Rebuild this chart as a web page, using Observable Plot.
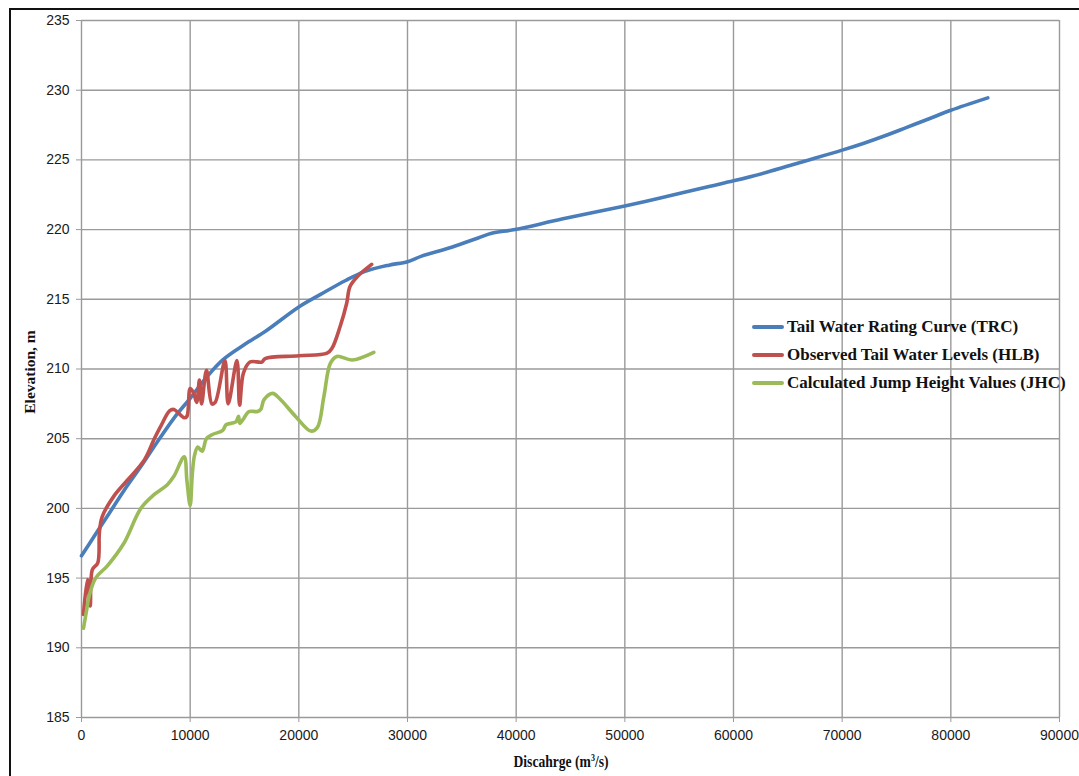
<!DOCTYPE html>
<html>
<head>
<meta charset="utf-8">
<script src="https://cdn.jsdelivr.net/npm/d3@7"></script>
<script src="https://cdn.jsdelivr.net/npm/@observablehq/plot@0.6"></script>
<style>
  body { margin:0; background:#fff; }
  #wrap { position:relative; width:1079px; height:776px; overflow:hidden; background:#fff; }
  #frame { position:absolute; left:9px; top:8px; width:1100px; height:800px; border-left:2px solid #111; border-top:2px solid #111; pointer-events:none; }
  #chart { position:absolute; left:0; top:0; }
  .lbl { position:absolute; font-family:"Liberation Serif","Times New Roman",serif; font-weight:bold; color:#111; white-space:nowrap; }
  #legend { position:absolute; left:752px; top:313px; font-family:"Liberation Serif","Times New Roman",serif; font-weight:bold; font-size:17px; color:#111; }
  #legend .row { display:flex; align-items:center; height:28px; }
  #legend .sw { width:32px; height:3.5px; margin-right:3px; border-radius:2px; }
</style>
</head>
<body>
<div id="wrap">
  <div id="chart"></div>
  <div id="frame"></div>
  <div class="lbl" id="ylab" style="left:30px; top:372px; font-size:15.5px; transform:translate(-50%,-50%) rotate(-90deg);">Elevation, m</div>
  <div class="lbl" id="xlab" style="left:561px; top:762px; font-size:17px; transform:translate(-50%,-50%) scaleX(0.8);">Discahrge (m<sup style="font-size:10px">3</sup>/s)</div>
  <div id="legend"></div>
</div>
<script>
// ---- data ----
const xTicks = [0, 10000, 20000, 30000, 40000, 50000, 60000, 70000, 80000, 90000];
const yTicks = [185, 190, 195, 200, 205, 210, 215, 220, 225, 230, 235];

const seriesNames = ["Tail Water Rating Curve (TRC)", "Observed Tail Water Levels (HLB)", "Calculated Jump Height Values (JHC)"];
const seriesColors = ["#4a7ebb", "#c0504d", "#9bbb59"];

const trcQ = [0,1170,2390,3930,5460,7000,8530,10000,11500,13000,15000,17000,20000,22000,24300,26100,28300,30000,31300,34060,36500,37750,39900,44200,50000,53450,57750,60000,63000,66050,70000,72000,74000,76000,78000,80000,83400];
const trcH = [196.6,198.0,199.45,201.3,203.0,204.8,206.5,207.9,209.4,210.65,211.75,212.75,214.45,215.35,216.35,217.0,217.45,217.7,218.1,218.74,219.4,219.74,220.0,220.76,221.7,222.3,223.1,223.5,224.1,224.8,225.7,226.2,226.75,227.35,227.95,228.56,229.45];

const hlbQ = [180,550,800,1000,1500,1650,1900,3000,4200,5800,6700,7300,8100,8500,9450,9700,10000,10300,10600,10850,11050,11500,12000,12300,13200,13500,14300,14550,14900,15500,16600,16900,20000,22600,23060,23800,24400,24700,25350,26700];
const hlbH = [192.4,194.9,193.0,195.6,196.1,198.3,199.4,200.9,202.0,203.5,205.0,205.9,207.0,207.1,206.5,206.6,208.6,208.3,207.6,209.2,207.5,209.9,207.5,207.6,210.6,207.5,210.6,207.4,209.7,210.5,210.5,210.75,210.95,211.14,211.5,213.05,214.7,215.9,216.6,217.5];

const jhcQ = [180,450,700,1300,2400,3900,5460,6700,7900,8500,9450,9700,10000,10200,10400,10700,11100,11500,12050,13000,13300,14200,14450,14570,14970,15400,16200,16500,16800,17600,18200,19700,21100,21700,22300,22900,23500,24900,26900];
const jhcH = [191.4,192.6,193.7,195.0,195.9,197.5,200.0,201.0,201.7,202.3,203.7,202.0,200.2,202.5,203.8,204.4,204.1,205.0,205.3,205.6,206.0,206.2,206.6,206.1,206.5,206.95,206.95,207.1,207.8,208.25,207.9,206.6,205.55,205.8,208.0,210.4,210.9,210.65,211.2];

const toRows = (qs, hs, s) => qs.map((q, i) => ({q, h: hs[i], s}));
const data = [
  ...toRows(trcQ, trcH, seriesNames[0]),
  ...toRows(hlbQ, hlbH, seriesNames[1]),
  ...toRows(jhcQ, jhcH, seriesNames[2])
];

const gridStyle = {stroke: "#9a9a9a", strokeOpacity: 1, strokeWidth: 1.4};

const chart = Plot.plot({
  width: 1079,
  height: 776,
  marginLeft: 81,
  marginRight: 20,
  marginTop: 20,
  marginBottom: 59,
  style: {fontFamily: "'Liberation Sans', Arial, sans-serif", fontSize: "14px", color: "#1a1a1a", background: "transparent"},
  x: {domain: [0, 90000]},
  y: {domain: [185, 235]},
  color: {domain: seriesNames, range: seriesColors},
  marks: [
    Plot.gridX(xTicks, gridStyle),
    Plot.gridY(yTicks, gridStyle),
    Plot.axisX(xTicks, {tickSize: 5, tickPadding: 8, tickFormat: d => String(d), label: null, stroke: "#9a9a9a", fill: "#1a1a1a", fontSize: 14}),
    Plot.axisY(yTicks, {tickSize: 5, tickPadding: 7, tickFormat: d => String(d), label: null, stroke: "#9a9a9a", fill: "#1a1a1a", fontSize: 14}),
    Plot.line(data, {x: "q", y: "h", z: "s", stroke: "s", strokeWidth: 3.6, curve: "catmull-rom", strokeLinecap: "round", strokeLinejoin: "round"})
  ]
});
document.getElementById("chart").appendChild(chart);

const legend = document.getElementById("legend");
seriesNames.forEach((n, i) => {
  const row = document.createElement("div");
  row.className = "row";
  const sw = document.createElement("div");
  sw.className = "sw";
  sw.style.background = seriesColors[i];
  const t = document.createElement("span");
  t.textContent = n;
  row.appendChild(sw);
  row.appendChild(t);
  legend.appendChild(row);
});
</script>
</body>
</html>
